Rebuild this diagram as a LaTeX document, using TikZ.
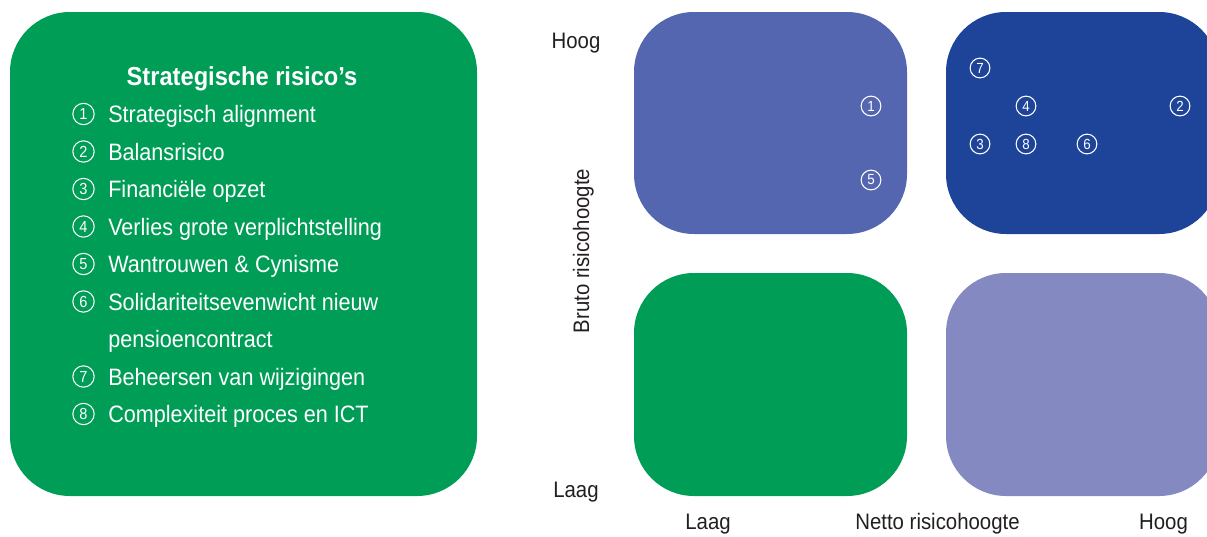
\documentclass[tikz,border=0pt]{standalone}
\usepackage{fontspec}
\setmainfont{Liberation Sans}[FakeStretch=0.91]
\definecolor{groen}{RGB}{0,157,87}
\definecolor{middenblauw}{RGB}{85,102,176}
\definecolor{donkerblauw}{RGB}{30,68,154}
\definecolor{lichtblauw}{RGB}{132,137,194}
\definecolor{inkt}{RGB}{35,31,32}
\tikzset{
  vak/.style={rounded corners=45pt},
  nr/.style={circle, draw=white, line width=0.8pt, minimum size=14.8pt, inner sep=0pt,
    text=white, font=\fontsize{11}{11}\selectfont},
  lnr/.style={nr, minimum size=16pt, font=\fontsize{12}{12}\selectfont},
  item/.style={anchor=base west, inner sep=0pt, text=white, font=\fontsize{17.8}{17.8}\selectfont},
  as/.style={anchor=base, inner sep=0pt, text=inkt, font=\fontsize{16.8}{16.8}\selectfont}
}
\begin{document}
\begin{tikzpicture}[x=0.75pt, y=-0.75pt]
\useasboundingbox (0,0) rectangle (1207,536);
\clip (0,0) rectangle (1207,536);

% legenda
\fill[groen, vak] (10,12) rectangle (477,496);
\node[item, anchor=base, font=\bfseries\fontsize{19.5}{19.5}\selectfont] (titel) at (242,85) {Strategische risico's};
\foreach \n/\y/\tekst in {1/114/Strategisch alignment, 2/151.5/Balansrisico,
    3/189/Financiële opzet, 4/226.5/Verlies grote verplichtstelling,
    5/264/Wantrouwen \& Cynisme, 6/301.5/Solidariteitsevenwicht nieuw,
    7/376.5/Beheersen van wijzigingen, 8/414/Complexiteit proces en ICT} {
  \node[lnr] (lnr\n) at (83.5,\y) {\n};
  \node[item] (item\n) at (108,\y+8.5) {\tekst};
}
\node[item] (item6b) at (108,347.5) {pensioencontract};

% matrix
\fill[middenblauw, vak] (634,12) rectangle (907,234);
\fill[donkerblauw, vak] (946,12) rectangle (1219,234);
\fill[groen, vak] (634,273) rectangle (907,496);
\fill[lichtblauw, vak] (946,273) rectangle (1219,496);

\foreach \n/\x/\y in {1/871/106, 5/871/180, 7/980/68, 4/1026/106,
    2/1180/106, 3/980/144, 8/1026/144, 6/1087/144}
  \node[nr] (m\n) at (\x,\y) {\n};

% assen
\node[as] (yhoog) at (576,48) {Hoog};
\node[as] (ylaag) at (576,497) {Laag};
\node[as, rotate=90] (bruto) at (589,251) {Bruto risicohoogte};
\node[as] (xlaag) at (708,529) {Laag};
\node[as] (netto) at (937.5,529) {Netto risicohoogte};
\node[as] (xhoog) at (1163.5,529) {Hoog};
\end{tikzpicture}
\end{document}
